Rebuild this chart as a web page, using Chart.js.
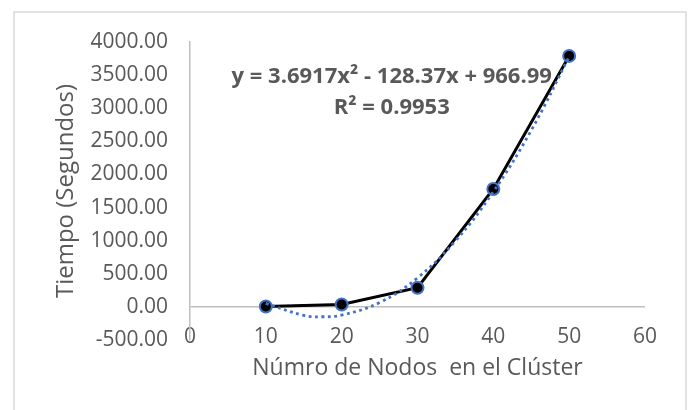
<!DOCTYPE html>
<html>
<head>
<meta charset="UTF-8">
<title>Tiempo vs nodos</title>
<script src="https://cdn.jsdelivr.net/npm/chart.js@4.4.0/dist/chart.umd.min.js"></script>
<style>
  body { margin: 0; background: #fff; }
</style>
</head>
<body>
<canvas id="grafico" width="689" height="410"></canvas>
<script>
// datos
const nodos = [10, 20, 30, 40, 50];
const tiempo = [5, 35, 290, 1780, 3790];

// linea de tendencia (polinomica)
const tendX = [10, 15, 17.5, 20, 25, 30, 35, 40, 45, 50];
const tendY = [52, -128, -149, -124, 65, 438, 996, 1739, 2666, 3778];

const ecuacion = ['y = 3.6917x² - 128.37x + 966.99', 'R² = 0.9953'];
const tituloX = 'Númro de Nodos  en el Clúster';
const tituloY = 'Tiempo (Segundos)';

const gris = '#595959';
const fuente = '"Open Sans", sans-serif';

const marco = {
  id: 'marco',
  beforeDraw(chart) {
    const ctx = chart.ctx;
    ctx.save();
    ctx.fillStyle = '#fff';
    ctx.fillRect(0, 0, chart.width, chart.height);
    ctx.strokeStyle = '#d9d9d9';
    ctx.lineWidth = 1.5;
    ctx.strokeRect(14, 12, 672, 420);
    ctx.restore();
  },
  afterDraw(chart) {
    const ctx = chart.ctx;
    const xs = chart.scales.x, ys = chart.scales.y;
    const cx = xs.getPixelForValue(26.6);
    ctx.save();
    ctx.fillStyle = gris;
    ctx.font = 'bold 22px ' + fuente;
    ctx.textAlign = 'center';
    ctx.textBaseline = 'middle';
    ctx.fillText(ecuacion[0], cx, ys.getPixelForValue(3470));
    ctx.fillText(ecuacion[1], cx, ys.getPixelForValue(3000));
    ctx.restore();
  }
};

new Chart(document.getElementById('grafico'), {
  type: 'scatter',
  data: {
    datasets: [{
      label: 'Tendencia',
      data: tendX.map((x, i) => ({x: x, y: tendY[i]})),
      showLine: true,
      borderColor: '#4472C4',
      borderWidth: 2.8,
      borderDash: [2.8, 3.6],
      tension: 0.4,
      pointRadius: 0
    }, {
      label: 'Tiempo',
      data: nodos.map((x, i) => ({x: x, y: tiempo[i]})),
      showLine: true,
      borderColor: '#000',
      borderWidth: 3,
      pointRadius: 6,
      pointBackgroundColor: '#000',
      pointBorderColor: '#4472C4',
      pointBorderWidth: 2
    }]
  },
  options: {
    responsive: false,
    animation: false,
    layout: { padding: { top: 42, right: 44, left: 0, bottom: 0 } },
    plugins: { legend: { display: false }, tooltip: { enabled: false } },
    scales: {
      x: {
        type: 'linear',
        min: 0, max: 60,
        afterFit(s) { s.height = 70; },
        border: { display: false },
        grid: { display: false, drawTicks: false },
        ticks: { stepSize: 10, mirror: true, padding: -9.6, color: gris, font: { family: fuente, size: 21 } },
        title: { display: true, text: tituloX, color: gris, padding: { top: 0, bottom: 28 }, font: { family: fuente, size: 23 } }
      },
      y: {
        min: -500, max: 4000,
        afterFit(s) { s.width = 190; },
        border: { display: true, color: '#bfbfbf', width: 1.5 },
        grid: {
          drawTicks: false,
          lineWidth: 1.5,
          color: c => c.tick && c.tick.value === 0 ? '#bfbfbf' : 'rgba(0,0,0,0)'
        },
        ticks: {
          stepSize: 500, padding: 22, color: gris,
          font: { family: fuente, size: 21 },
          callback: v => v.toFixed(2)
        },
        title: { display: true, text: tituloY, color: gris, padding: { top: 51.6, bottom: 0 }, font: { family: fuente, size: 24 } }
      }
    }
  },
  plugins: [marco]
});
</script>
</body>
</html>
